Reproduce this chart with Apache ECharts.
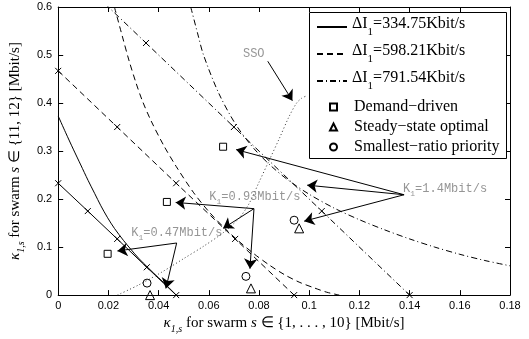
<!DOCTYPE html>
<html><head><meta charset="utf-8">
<script src="https://cdn.jsdelivr.net/npm/echarts@6/dist/echarts.min.js"></script>
<style>html,body{margin:0;padding:0;background:#fff}#c{width:529px;height:339px}</style>
</head><body><div id="c"></div>
<script>
// ---- data ----
const xTickLabels = ['0','0.02','0.04','0.06','0.08','0.1','0.12','0.14','0.16','0.18'];
const yTickLabels = ['0','0.1','0.2','0.3','0.4','0.5','0.6'];
const deltaI = ['334.75','598.21','791.54'];
const curveSolid = [[0,0.373],[0.003,0.338],[0.006,0.304],[0.009,0.271],[0.0119,0.239],[0.0145,0.212],[0.017,0.186],[0.0197,0.161],[0.0224,0.139],[0.026,0.114],[0.029,0.095],[0.032,0.077],[0.036,0.056],[0.040,0.036],[0.044,0.016],[0.047,0]];
const curveDashed = [[0.0224,0.6],[0.0255,0.54],[0.0283,0.487],[0.031,0.442],[0.0335,0.405],[0.037,0.363],[0.042,0.312],[0.047,0.268],[0.054,0.213],[0.060,0.174],[0.066,0.141],[0.072,0.112],[0.078,0.086],[0.084,0.063],[0.090,0.043],[0.096,0.027],[0.102,0.015],[0.107,0.006],[0.112,0]];
const curveDashDot = [[0.0528,0.6],[0.0555,0.546],[0.0579,0.500],[0.064,0.42],[0.0709,0.354],[0.078,0.305],[0.085,0.268],[0.092,0.238],[0.100,0.210],[0.110,0.181],[0.120,0.157],[0.130,0.136],[0.140,0.117],[0.150,0.100],[0.160,0.085],[0.170,0.072],[0.180,0.061]];
const ssoCurve = [[0.0236,0],[0.032,0.021],[0.041,0.047],[0.050,0.076],[0.058,0.102],[0.066,0.131],[0.072,0.160],[0.076,0.190],[0.080,0.235],[0.084,0.280],[0.088,0.325],[0.092,0.372],[0.095,0.400],[0.097,0.410],[0.099,0.415]];
const kLineSolid = [[0,0.233],[0.0118,0.175],[0.0235,0.117],[0.0353,0.058],[0.047,0]];
const kLineDashed = [[0,0.467],[0.0235,0.350],[0.047,0.233],[0.0705,0.117],[0.094,0]];
const kLineDashDot = [[0,0.7],[0.035,0.525],[0.070,0.350],[0.105,0.175],[0.140,0]];
const demandDriven = [[0.0197,0.086],[0.0433,0.194],[0.0657,0.309]];
const steadyState = [[0.0366,0],[0.0768,0.014],[0.096,0.139]];
const smallestRatio = [[0.0354,0.025],[0.0748,0.039],[0.094,0.156]];
const markerNames = ['Demand−driven','Steady−state optimal','Smallest−ratio priority'];
const kValues = ['0.47','0.93','1.4'];
const kLabelPos = [[0.0291,0.129],[0.0602,0.205],[0.1374,0.221]];
const ssoLabelPos = [0.0736,0.502];
const arrowFrom = [[0.0472,0.1085],[0.0472,0.1085],[0.078,0.180],[0.078,0.180],[0.078,0.180],[0.1378,0.209],[0.1378,0.209],[0.1378,0.209],[0.0835,0.487]];
const arrowTo = [[0.0236,0.092],[0.0429,0.014],[0.0468,0.193],[0.0657,0.139],[0.0764,0.055],[0.0709,0.303],[0.0992,0.229],[0.098,0.154],[0.0933,0.405]];

// ---- chart ----
const chart = echarts.init(document.getElementById('c'), null, {renderer:'canvas'});
const deltaNames = deltaI.map(v => 'ΔI1=' + v + 'Kbit/s');
const lineTypes = ['solid', [6,4], [6,3,1,3]];
const curves = [curveSolid, curveDashed, curveDashDot];
const kLines = [kLineSolid, kLineDashed, kLineDashDot];
const crossPath = 'path://M0,0L10,10M10,0L0,10';
const annRich = {
  m:{fontFamily:'Liberation Mono', fontSize:12, color:'#7a7a7a'},
  s:{fontFamily:'Liberation Mono', fontSize:8, color:'#7a7a7a', lineHeight:18, verticalAlign:'bottom'}
};
const series = [];
curves.forEach((c,i) => series.push({
  type:'line', name:deltaNames[i], data:c, symbol:'none', smooth:0.3,
  lineStyle:{color:'#000', width:1, type:lineTypes[i]},
  itemStyle:{color:'rgba(0,0,0,0)', borderColor:'rgba(0,0,0,0)', borderWidth:0}, silent:true, z:2
}));
kLines.forEach((c,i) => series.push({
  type:'line', data:c, symbol:crossPath, symbolSize:6, showAllSymbol:true, clip:true,
  lineStyle:{color:'#000', width:1, type:lineTypes[i]},
  itemStyle:{color:'#000', borderColor:'#000', borderWidth:1}, silent:true, z:2
}));
series.push({type:'line', data:ssoCurve, symbol:'none', smooth:0.3,
  lineStyle:{color:'#333', width:1, type:[1,2.5]}, silent:true, z:2});
const mk = [[demandDriven,'rect',7],[steadyState,'triangle',9],[smallestRatio,'circle',8]];
mk.forEach((m,i) => series.push({
  type:'scatter', name:markerNames[i], data:m[0], symbol:m[1], symbolSize:m[2], clip:false,
  itemStyle:{color:'rgba(0,0,0,0)', borderColor:'#000', borderWidth:1, opacity:1}, silent:true, z:3
}));
series.push({
  type:'lines', coordinateSystem:'cartesian2d', silent:true, z:4,
  data: arrowFrom.map((f,i) => ({coords:[f, arrowTo[i]]})),
  symbol:['none','arrow'], symbolSize:[0,10],
  lineStyle:{color:'#000', width:1, opacity:1, curveness:0}
});
series.push({
  type:'scatter', symbolSize:0, silent:true, z:4,
  data: kLabelPos.map((p,i) => ({value:p, label:{formatter:'{m|K}{s|1}{m|=' + kValues[i] + 'Mbit/s}'}})),
  label:{show:true, position:'right', distance:0, rich:annRich}
});
series.push({
  type:'scatter', symbolSize:0, silent:true, z:4,
  data:[{value:ssoLabelPos, label:{formatter:'{m|SSO}'}}],
  label:{show:true, position:'right', distance:0, rich:annRich}
});

const axisCommon = {
  axisLine:{show:true, onZero:false, lineStyle:{color:'#000', width:1}},
  axisTick:{show:true, inside:true, length:5, lineStyle:{color:'#000'}},
  splitLine:{show:false}
};
const tickFont = {fontFamily:'Liberation Sans', fontSize:11, color:'#000'};
const nameStyle = {fontFamily:'Liberation Serif', fontSize:15, color:'#000',
  rich:{i:{fontFamily:'Liberation Serif', fontSize:15, fontStyle:'italic'},
        s:{fontFamily:'Liberation Serif', fontSize:10, fontStyle:'italic', lineHeight:21, verticalAlign:'bottom'}}};
const option = {
  animation:false,
  backgroundColor:'#fff',
  grid:{left:53, right:19, top:7, bottom:39},
  xAxis:[
    Object.assign({type:'value', min:0, max:0.18, interval:0.02, position:'bottom',
      axisLabel:Object.assign({margin:5, formatter:v => xTickLabels[Math.round(v/0.02)]}, tickFont),
      name:'{i|κ}{s|1,s} for swarm {i|s} ∈ {1, . . . , 10} [Mbit/s]', nameLocation:'middle', nameGap:13,
      nameTextStyle:nameStyle
    }, axisCommon),
    Object.assign({type:'value', min:0, max:0.18, interval:0.02, position:'top', axisLabel:{show:false}}, axisCommon)
  ],
  yAxis:[
    Object.assign({type:'value', min:0, max:0.6, interval:0.1, position:'left',
      axisLabel:Object.assign({margin:6, formatter:v => yTickLabels[Math.round(v/0.1)]}, tickFont),
      name:'{i|κ}{s|1,s} for swarm {i|s} ∈ {11, 12} [Mbit/s]', nameLocation:'middle', nameGap:17,
      nameTextStyle:nameStyle
    }, axisCommon),
    Object.assign({type:'value', min:0, max:0.6, interval:0.1, position:'right', axisLabel:{show:false}}, axisCommon)
  ],
  graphic:[{type:'rect', z:3, shape:{x:309.5, y:12.5, width:197, height:146}, style:{fill:'#fff', stroke:'#000', lineWidth:1}}],
  legend:[
    {data:deltaNames, orient:'vertical', left:316, top:16, padding:0, itemGap:5, itemWidth:30, itemHeight:14, z:5,
     selectedMode:false,
     formatter:n => n.replace('ΔI1', '{a|ΔI}{b|1}{a|') + '}',
     textStyle:{fontFamily:'Liberation Serif', fontSize:16, color:'#000',
       rich:{a:{fontFamily:'Liberation Serif', fontSize:16, color:'#000', verticalAlign:'top'},
             b:{fontFamily:'Liberation Serif', fontSize:11, color:'#000', lineHeight:22, verticalAlign:'bottom'}}}},
    {data:markerNames, orient:'vertical', left:329, top:98, padding:0, itemGap:2, itemWidth:7, itemHeight:7, z:5,
     selectedMode:false,
     textStyle:{fontFamily:'Liberation Serif', fontSize:16, color:'#000', lineHeight:18, padding:[0,0,0,12]}}
  ],
  series:series
};
chart.setOption(option);
</script>
</body></html>
